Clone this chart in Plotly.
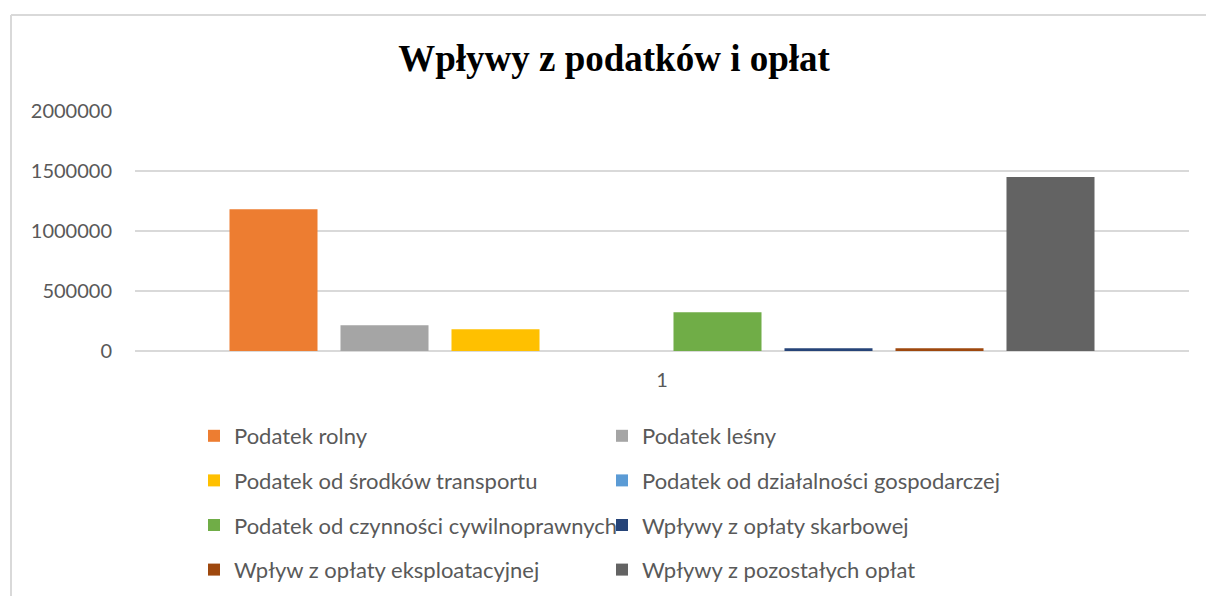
import plotly.graph_objects as go

categories = ["1"]
series_names = [
    "Podatek rolny",
    "Podatek leśny",
    "Podatek od środków transportu",
    "Podatek od działalności gospodarczej",
    "Podatek od czynności cywilnoprawnych",
    "Wpływy z opłaty skarbowej",
    "Wpływ z opłaty eksploatacyjnej",
    "Wpływy z pozostałych opłat",
]
series_values = [1181000, 214000, 181000, 0, 323000, 22500, 22000, 1450000]
series_colors = ["#ED7D31", "#A5A5A5", "#FFC000", "#5B9BD5",
                 "#70AD47", "#264478", "#9E480E", "#636363"]
y_ticks = [0, 500000, 1000000, 1500000, 2000000]

W, H = 1206, 596
L, R, T, B = 135, 17, 111, 245
pw, ph = W - L - R, H - T - B

fig = go.Figure()
for i, (name, val, col) in enumerate(zip(series_names, series_values, series_colors)):
    fig.add_trace(go.Bar(
        x=categories, y=[val], name=name, marker=dict(color=col, line=dict(width=0)),
        legend="legend" if i % 2 == 0 else "legend2",
        legendgroup=name, showlegend=True,
    ))

txt = "#595959"
font_name = "Lato"
leg_common = dict(
    orientation="v", yanchor="top", xanchor="left",
    xref="container", yref="container",
    font=dict(family=font_name, size=22, color=txt),
    bgcolor="rgba(0,0,0,0)", tracegroupgap=13, itemwidth=30,
    traceorder="grouped",
)
fig.update_layout(
    width=W, height=H, autosize=False,
    margin=dict(l=L, r=R, t=T, b=B, pad=0, autoexpand=False),
    paper_bgcolor="white", plot_bgcolor="white",
    title=dict(text="<b>Wpływy z podatków i opłat</b>", x=614 / W, xref="container",
               xanchor="center", y=1 - 58 / H, yref="container", yanchor="middle",
               font=dict(family="Liberation Serif", size=37, color="black")),
    barmode="group", bargap=0.1575, bargroupgap=0.207,
    xaxis=dict(showgrid=False, showline=False, zeroline=False, ticks="",
               tickfont=dict(family=font_name, size=20, color=txt),
               ticklabelstandoff=15, automargin=False),
    yaxis=dict(range=[0, 2000000], tickvals=y_ticks, ticktext=[str(v) for v in y_ticks],
               showgrid=True, gridcolor="#D9D9D9", gridwidth=1.5,
               zeroline=True, zerolinecolor="#D9D9D9", zerolinewidth=1.5,
               showline=False, ticks="", automargin=False,
               tickfont=dict(family=font_name, size=20, color=txt),
               ticklabelstandoff=22),
    legend=dict(x=194 / W, y=1 - 415 / H, **leg_common),
    legend2=dict(x=602 / W, y=1 - 415 / H, **leg_common),
    showlegend=True,
)

# chart area border (top and left edges visible)
fig.add_shape(type="line", xref="paper", yref="paper",
              x0=(11 - L) / pw, x1=(W - L) / pw,
              y0=(H - B - 15) / ph, y1=(H - B - 15) / ph,
              line=dict(color="#D9D9D9", width=2))
fig.add_shape(type="line", xref="paper", yref="paper",
              x0=(11 - L) / pw, x1=(11 - L) / pw,
              y0=(H - B - 15) / ph, y1=(H - B - H) / ph,
              line=dict(color="#D9D9D9", width=2))

fig.write_html(
    "out.html",
    config={"displayModeBar": False},
    post_script="document.body.style.margin='0';document.body.style.overflow='hidden';",
)
